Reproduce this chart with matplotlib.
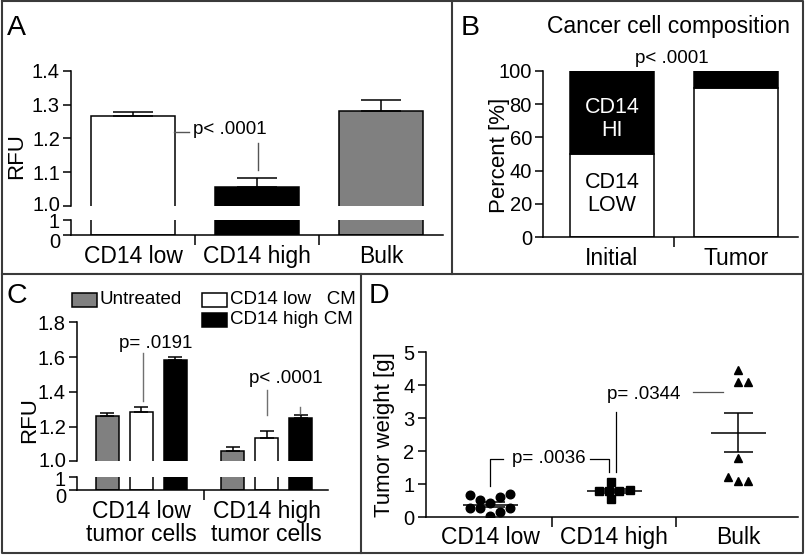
import matplotlib
matplotlib.use('Agg')
import matplotlib.pyplot as plt
from matplotlib.lines import Line2D
from matplotlib.patches import Rectangle
from matplotlib.transforms import ScaledTranslation

plt.rcParams['font.family'] = ['Liberation Sans', 'DejaVu Sans']

# ---- data ----
a_groups = ['CD14 low', 'CD14 high', 'Bulk']
a_rfu = [1.265, 1.057, 1.282]
a_sem = [0.014, 0.025, 0.033]

b_groups = ['Initial', 'Tumor']
b_low = [50, 90]
b_high = [50, 10]

c_groups = ['CD14 low\ntumor cells', 'CD14 high\ntumor cells']
c_series = ['Untreated', 'CD14 low   CM', 'CD14 high CM']
c_untreated = [1.262, 1.058]
c_low_cm = [1.284, 1.134]
c_high_cm = [1.585, 1.249]
c_untreated_sem = [0.016, 0.024]
c_low_cm_sem = [0.027, 0.039]
c_high_cm_sem = [0.015, 0.016]

d_groups = ['CD14 low', 'CD14 high', 'Bulk']
d_low = [0.67, 0.52, 0.44, 0.62, 0.70, 0.27, 0.27, 0.04, 0.17, 0.27]
d_high = [0.80, 0.80, 0.80, 0.82, 1.06, 0.54]
d_bulk = [4.46, 4.09, 4.09, 1.79, 1.21, 1.09, 1.11]
d_mean = [0.385, 0.80, 2.56]
d_sem = [0.065, 0.07, 0.59]

# horizontal scatter of the dots within each column
d_low_jit = [-0.16, -0.08, 0, 0.08, 0.16, -0.16, -0.08, 0, 0.08, 0.16]
d_high_jit = [-0.12, -0.04, 0.04, 0.13, -0.03, -0.03]
d_bulk_jit = [0, 0, 0.08, 0, -0.085, 0, 0.08]

GRAY = '#808080'
W, H = 805, 555
LW = 1.1
TICK_FS = 14.5
CAT_FS = 16.5
P_FS = 13.5
YLAB_FS = 16

fig = plt.figure(figsize=(W / 100, H / 100), dpi=100)


def box(x0, y0, x1, y1):
    # pixel box (top-left origin) -> figure fraction
    return [x0 / W, 1 - y1 / H, (x1 - x0) / W, (y1 - y0) / H]


def fline(xs, ys, **kw):
    fig.add_artist(Line2D([x / W for x in xs], [1 - y / H for y in ys],
                          transform=fig.transFigure, **kw))


def style(ax, bottom=True):
    for s in ['top', 'right']:
        ax.spines[s].set_visible(False)
    for s in ax.spines.values():
        s.set_linewidth(LW)
    ax.tick_params(axis='y', direction='out', length=6, width=LW,
                   labelsize=TICK_FS, pad=2)
    if not bottom:
        ax.spines['bottom'].set_visible(False)
        ax.xaxis.set_visible(False)


def cat_axis(ax, labels, xs, seps, pad=6):
    ax.set_xticks(xs)
    ax.set_xticklabels(labels, fontsize=CAT_FS)
    ax.tick_params(axis='x', which='major', length=0, pad=pad)
    ax.set_xticks(seps, minor=True)
    ax.tick_params(axis='x', which='minor', direction='out', length=7, width=LW)


def nudge(label, dy_px):
    label.set_transform(label.get_transform() +
                        ScaledTranslation(0, dy_px / 100, fig.dpi_scale_trans))


def broken_labels(ax_top, ax_bot):
    # spread the crowded labels around the axis break a little
    nudge(ax_top.get_yticklabels()[0], 2)
    nudge(ax_bot.get_yticklabels()[1], -1)
    nudge(ax_bot.get_yticklabels()[0], -5)


# ---- panel borders ----
bc = '#3a3a3a'
fline([2, 803, 803, 2, 2], [1, 1, 553, 553, 1], color=bc, lw=1.5)
fline([2, 803], [274, 274], color=bc, lw=1.5)
fline([452, 452], [1, 274], color=bc, lw=1.5)
fline([361, 361], [274, 553], color=bc, lw=1.5)

for lab, x, y in [('A', 7, 35), ('B', 461, 35), ('C', 6, 303), ('D', 369, 303)]:
    fig.text(x / W, 1 - y / H, lab, fontsize=20.5, va='baseline', ha='left')

# ---- panel A ----
a_x = range(len(a_groups))
a_cols = ['white', 'black', GRAY]
axAt = fig.add_axes(box(71, 71, 443, 205.7))
axAb = fig.add_axes(box(71, 220, 443, 235))
for ax in (axAt, axAb):
    ax.bar(a_x, a_rfu, width=0.67, color=a_cols, edgecolor='black', linewidth=LW)
    ax.set_xlim(-0.5, 2.5)
axAt.errorbar(a_x, a_rfu, yerr=[[0] * 3, a_sem], fmt='none', ecolor='black',
              elinewidth=LW, capsize=14.5, capthick=LW)
axAt.set_ylim(1.0, 1.4)
axAt.set_yticks([1.0, 1.1, 1.2, 1.3, 1.4])
axAt.set_yticklabels(['1.0', '1.1', '1.2', '1.3', '1.4'])
style(axAt, bottom=False)
axAb.set_ylim(0, 1)
axAb.set_yticks([0, 1])
style(axAb)
cat_axis(axAb, a_groups, list(a_x), [0.5, 1.5], pad=7)
broken_labels(axAt, axAb)
axAt.plot([0.33, 0.45], [1.219, 1.219], color='#555555', lw=1)
axAt.text(0.484, 1.225, 'p< .0001', fontsize=P_FS, va='center', ha='left')
axAt.plot([1.008, 1.008], [1.187, 1.106], color='#555555', lw=1)
fig.text(17 / W, 1 - 156 / H, 'RFU', rotation=90, fontsize=YLAB_FS,
         ha='center', va='center')

# ---- panel B ----
axB = fig.add_axes(box(543, 71, 798, 237))
b_x = range(len(b_groups))
axB.bar(b_x, b_low, width=0.68, color='white', edgecolor='black', linewidth=LW)
axB.bar(b_x, b_high, bottom=b_low, width=0.68, color='black', edgecolor='black',
        linewidth=LW)
axB.set_xlim(-0.556, 1.5)
axB.set_ylim(0, 100)
axB.set_yticks([0, 20, 40, 60, 80, 100])
style(axB)
cat_axis(axB, b_groups, list(b_x), [0.5], pad=7)
fig.text(499 / W, 1 - 155 / H, 'Percent [%]', rotation=90, fontsize=YLAB_FS,
         ha='center', va='center')
axB.text(0, 71, 'CD14\nHI', color='white', fontsize=15.5, ha='center', va='center',
         linespacing=1.15)
axB.text(0, 26, 'CD14\nLOW', color='black', fontsize=15.5, ha='center', va='center',
         linespacing=1.15)
axB.text(0.48, 107.5, 'p< .0001', fontsize=P_FS, ha='center', va='center', clip_on=False)
fig.text(668 / W, 1 - 33 / H, 'Cancer cell composition', fontsize=16.5,
         ha='center', va='baseline')

# ---- panel C ----
c_x = [0, 1]
offs = [-0.27, 0, 0.27]
c_vals = [c_untreated, c_low_cm, c_high_cm]
c_errs = [c_untreated_sem, c_low_cm_sem, c_high_cm_sem]
c_cols = [GRAY, 'white', 'black']
axCt = fig.add_axes(box(77, 322.3, 328, 461.3))
axCb = fig.add_axes(box(77, 477, 328, 490.3))
for ax in (axCt, axCb):
    for vals, off, col in zip(c_vals, offs, c_cols):
        ax.bar([x + off for x in c_x], vals, width=0.183, color=col,
               edgecolor='black', linewidth=LW)
    ax.set_xlim(-0.513, 1.489)
for vals, errs, off in zip(c_vals, c_errs, offs):
    axCt.errorbar([x + off for x in c_x], vals, yerr=[[0, 0], errs], fmt='none',
                  ecolor='black', elinewidth=LW, capsize=5, capthick=LW)
axCt.set_ylim(1.0, 1.8)
axCt.set_yticks([1.0, 1.2, 1.4, 1.6, 1.8])
axCt.set_yticklabels(['1.0', '1.2', '1.4', '1.6', '1.8'])
style(axCt, bottom=False)
axCb.set_ylim(0, 1)
axCb.set_yticks([0, 1])
style(axCb)
cat_axis(axCb, c_groups, c_x, [0.5], pad=7)
for t in axCb.get_xticklabels():
    t.set_linespacing(1.0)
broken_labels(axCt, axCb)
pc = '#707070'
axCt.plot([0.011, 0.011], [1.623, 1.345], color=pc, lw=1)
axCt.text(0.113, 1.677, 'p= .0191', fontsize=P_FS, ha='center', va='center')
axCt.plot([1.0, 1.0], [1.412, 1.268], color=pc, lw=1)
axCt.plot([1.266, 1.266], [1.31, 1.277], color=pc, lw=1)
axCt.text(1.152, 1.479, 'p< .0001', fontsize=P_FS, ha='center', va='center')
fig.text(30 / W, 1 - 420 / H, 'RFU', rotation=90, fontsize=YLAB_FS,
         ha='center', va='center')

# legend drawn by hand (two columns, one empty slot)
leg = [(c_series[0], c_cols[0], 71.7, 293), (c_series[1], c_cols[1], 201.7, 293),
       (c_series[2], c_cols[2], 201.7, 313)]
for lab, col, x, y in leg:
    fig.add_artist(Rectangle((x / W, 1 - (y + 14) / H), 25 / W, 14 / H,
                             transform=fig.transFigure, facecolor=col,
                             edgecolor='black', linewidth=LW))
    fig.text((x + 28) / W, 1 - (y + 7) / H, lab, fontsize=13.5, va='center', ha='left')

# ---- panel D ----
axD = fig.add_axes(box(425.7, 352, 798, 517.3))
for i, (vals, jit, mk, ms) in enumerate([(d_low, d_low_jit, 'o', 6.2),
                                          (d_high, d_high_jit, 's', 6),
                                          (d_bulk, d_bulk_jit, '^', 6.2)]):
    axD.plot([i + j for j in jit], vals, linestyle='none', marker=mk,
             markersize=ms, color='black', zorder=3)
d_x = range(len(d_groups))
axD.hlines(d_mean, [x - 0.22 for x in d_x], [x + 0.22 for x in d_x],
           color='black', lw=LW, zorder=4)
lo = [m - s for m, s in zip(d_mean, d_sem)]
hi = [m + s for m, s in zip(d_mean, d_sem)]
axD.hlines(lo, [x - 0.115 for x in d_x], [x + 0.115 for x in d_x], color='black',
           lw=LW, zorder=4)
axD.hlines(hi, [x - 0.115 for x in d_x], [x + 0.115 for x in d_x], color='black',
           lw=LW, zorder=4)
axD.vlines(list(d_x), lo, hi, color='black', lw=LW, zorder=4)
axD.set_xlim(-0.52, 2.48)
axD.set_ylim(0, 5)
axD.set_yticks([0, 1, 2, 3, 4, 5])
style(axD)
cat_axis(axD, d_groups, list(d_x), [0.5, 1.5], pad=6)
fig.text(384 / W, 1 - 435 / H, 'Tumor weight [g]', rotation=90, fontsize=YLAB_FS,
         ha='center', va='center')
axD.plot([0, 0, 0.10], [0.94, 1.77, 1.77], color='black', lw=0.9)
axD.text(0.47, 1.79, 'p= .0036', fontsize=P_FS, ha='center', va='center')
axD.plot([0.80, 0.96, 0.96], [1.77, 1.77, 1.37], color='black', lw=0.9)
axD.plot([1.016, 1.016], [3.2, 1.37], color='black', lw=0.9)
axD.text(1.24, 3.71, 'p= .0344', fontsize=P_FS, ha='center', va='center')
axD.plot([1.63, 1.875], [3.78, 3.78], color='#555555', lw=0.9)

fig.savefig('out.png', dpi=100)
